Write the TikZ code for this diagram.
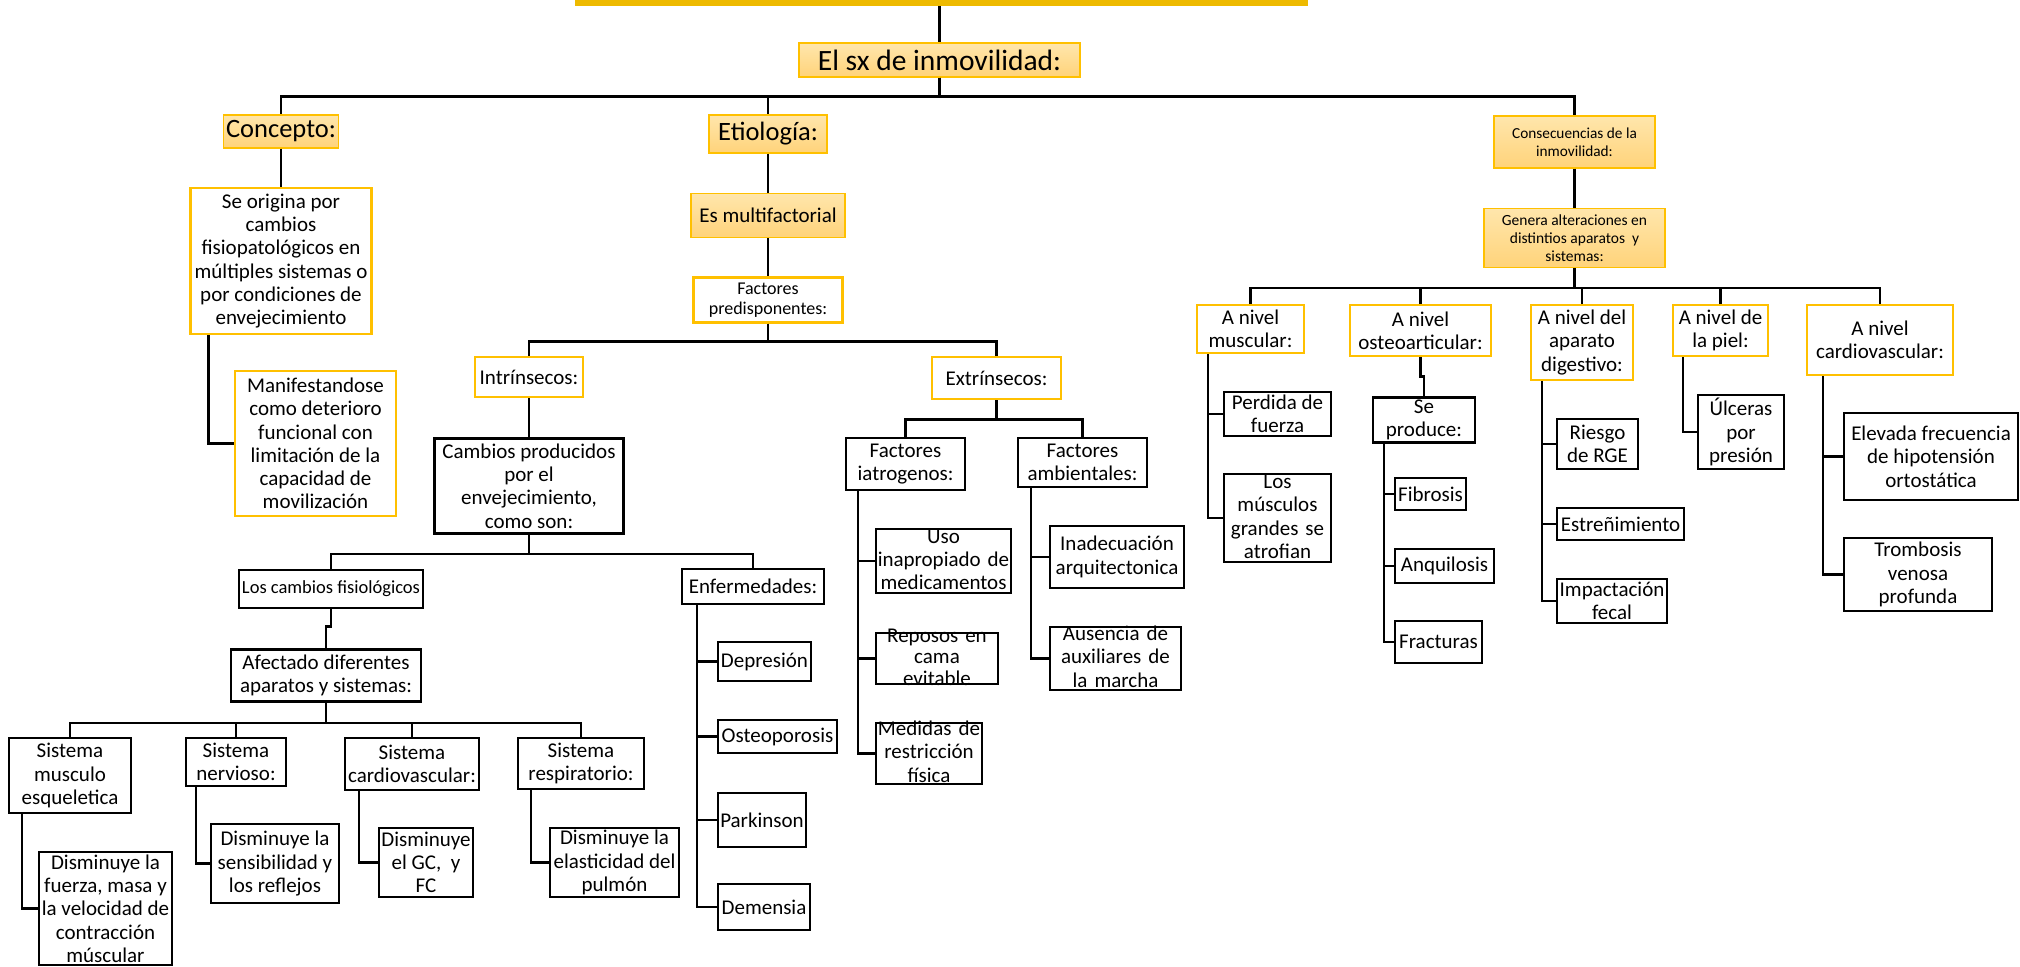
\documentclass[tikz,border=0pt]{standalone}
\usepackage{fontspec}
\setmainfont{Carlito}
\usetikzlibrary{positioning}
\definecolor{gold}{RGB}{255,192,0}
\definecolor{barGold}{RGB}{238,186,0}
\definecolor{orangeTop}{RGB}{255,230,172}
\definecolor{orangeBot}{RGB}{255,211,122}

\newcommand{\treeedge}[3]{\draw[link] (#1.south) -- ++(0,#3) -| (#2.north);}
\newcommand{\sideedge}[3]{\draw[link] ([xshift=#3]#1.south) |- (#2.west);}

\begin{document}
\begin{tikzpicture}[x=1pt, y=-1pt,
	link/.style={line width=2.6pt},
	txt/.style={inner sep=0pt, align=center, font=\fontsize{21}{23.3}\selectfont},
	hbox/.style={txt, rectangle, draw=gold, line width=1.4pt, top color=orangeTop, bottom color=orangeBot},
	gbox/.style={txt, rectangle, draw=gold, line width=2.6pt, fill=white},
	bbox/.style={txt, rectangle, draw=black, line width=2.6pt, fill=white},
	titlebar/.style={rectangle, fill=barGold, inner sep=0pt, minimum width=733, minimum height=46},
	boxsize/.style 2 args={minimum width=#1, minimum height=#2},
	squeeze/.style 2 args={text width=#1, text height=0pt, text depth=#2},
	bigfont/.style={font=\fontsize{26.5}{30}\selectfont}]
	
	\useasboundingbox (0,0) rectangle (2020,966);
	
	\node[titlebar] (title) at (941.5,-17) {};
	\node[hbox, boxsize={281}{34}, font=\fontsize{29.5}{34}\selectfont] (sx) at (939.5,60) {El sx de inmovilidad:};
	
	\node[hbox, boxsize={115}{33}, bigfont] (concepto) at (281,131.5) {Concepto:};
	\node[gbox, boxsize={181}{146}, below=38pt of concepto] (origen) {Se origina por\\cambios\\fisiopatológicos en\\múltiples sistemas o\\por condiciones de\\envejecimiento};
	\node[gbox, boxsize={161}{145}] (manif) at (315.5,443.5) {Manifestandose\\como deterioro\\funcional con\\limitación de la\\capacidad de\\movilización};
	
	\node[hbox, boxsize={118}{38}, bigfont] (etio) at (768,134) {Etiología:};
	\node[hbox, boxsize={154}{44}, below=39pt of etio] (multi) {Es multifactorial};
	\node[gbox, boxsize={149}{45}, below=38pt of multi, font=\fontsize{18}{20}\selectfont] (predis) {Factores\\predisponentes:};
	\node[gbox, boxsize={108}{40}] (intrin) at (529,377) {Intrínsecos:};
	\node[gbox, boxsize={129}{42}] (extrin) at (996.5,378) {Extrínsecos:};
	\node[bbox, boxsize={189}{95}, below=39pt of intrin] (cambios) {Cambios producidos\\por el\\envejecimiento,\\como son:};
	\node[bbox, boxsize={184}{38}, font=\fontsize{18.5}{21}\selectfont] (fisio) at (331,589) {Los cambios fisiológicos};
	\node[bbox, boxsize={142}{35}] (enferm) at (753,586.5) {Enfermedades:};
	\node[bbox, boxsize={190}{52}, below=39pt of fisio, xshift=-5pt] (afect) {Afectado diferentes\\aparatos y sistemas:};
	
	\node[bbox, boxsize={122}{75}] (smus) at (70,775.5) {Sistema\\musculo\\esqueletica};
	\node[bbox, boxsize={100}{48}] (snerv) at (236,762) {Sistema\\nervioso:};
	\node[bbox, boxsize={134}{52}] (scard) at (412,764) {Sistema\\cardiovascular:};
	\node[bbox, boxsize={126}{51}] (sresp) at (581,763.5) {Sistema\\respiratorio:};
	\node[bbox, boxsize={133}{113}] (dfuerza) at (105.5,908.5) {Disminuye la\\fuerza, masa y\\la velocidad de\\contracción\\múscular};
	\node[bbox, boxsize={128}{79}] (dsens) at (275,863.5) {Disminuye la\\sensibilidad y\\los reflejos};
	\node[bbox, boxsize={94}{69}] (dgc) at (426,862.5) {Disminuye\\el GC,\ \ y\\FC};
	\node[bbox, boxsize={129}{69}] (dpul) at (614.5,862.5) {Disminuye la\\elasticidad del\\pulmón};
	
	\node[bbox, boxsize={93}{39}] (depre) at (764.5,661.5) {Depresión};
	\node[bbox, boxsize={119}{33}] (osteo) at (777.5,736.5) {Osteoporosis};
	\node[bbox, boxsize={88}{54}] (parkin) at (762,820) {Parkinson};
	\node[bbox, boxsize={92}{46}] (demen) at (764,907) {Demensia};
	
	\node[bbox, boxsize={119}{52}] (iatro) at (905.5,464) {Factores\\iatrogenos:};
	\node[bbox, boxsize={129}{49}] (ambien) at (1082.5,462.5) {Factores\\ambientales:};
	\node[bbox, boxsize={135}{64}, squeeze={135}{36}] (uso) at (943.5,561) {Uso\\inapropiado de\\medicamentos};
	\node[bbox, boxsize={122}{51}, squeeze={122}{33}, font=\fontsize{21}{21.7}\selectfont] (reposo) at (937,658.5) {Reposos en\\cama\\evitable};
	\node[bbox, boxsize={106}{61}, squeeze={106}{36}] (medidas) at (929,753.5) {Medidas de\\restricción\\física};
	\node[bbox, boxsize={134}{62}] (inadec) at (1117,557) {Inadecuación\\arquitectonica};
	\node[bbox, boxsize={131}{63}, squeeze={131}{36}] (ausen) at (1115.5,658.5) {Ausencia de\\auxiliares de\\la marcha};
	
	\node[hbox, boxsize={161}{52}, font=\fontsize{15.3}{18.3}\selectfont] (conse) at (1574.5,142) {Consecuencias de la\\inmovilidad:};
	\node[hbox, boxsize={181}{59}, below=39pt of conse, font=\fontsize{15.5}{18}\selectfont] (genera) {Genera alteraciones en\\distintios aparatos\ \ y\\sistemas:};
	\node[gbox, boxsize={107}{48}] (nmus) at (1250.5,329) {A nivel\\muscular:};
	\node[gbox, boxsize={141}{51}] (nost) at (1420.5,330.5) {A nivel\\osteoarticular:};
	\node[gbox, boxsize={102}{75}] (ndig) at (1582,342.5) {A nivel del\\aparato\\digestivo:};
	\node[gbox, boxsize={95}{51}] (npiel) at (1720.5,330.5) {A nivel de\\la piel:};
	\node[gbox, boxsize={146}{70}] (ncard) at (1880,340) {A nivel\\cardiovascular:};
	
	\node[bbox, boxsize={107}{44}] (perd) at (1277.5,414) {Perdida de\\fuerza};
	\node[bbox, boxsize={107}{88}, squeeze={107}{59}] (atrof) at (1277.5,518) {Los\\músculos\\grandes se\\atrofian};
	\node[bbox, boxsize={102}{45}, below=39pt of nost, xshift=3.5pt] (seprod) {Se\\produce:};
	\node[bbox, boxsize={71}{32}] (fibro) at (1430.5,494) {Fibrosis};
	\node[bbox, boxsize={99}{34}] (anqui) at (1444.5,566) {Anquilosis};
	\node[bbox, boxsize={87}{42}] (fract) at (1438.5,642) {Fracturas};
	\node[bbox, boxsize={81}{50}] (rge) at (1597.5,444) {Riesgo\\de RGE};
	\node[bbox, boxsize={127}{32}] (estre) at (1620.5,524) {Estreñimiento};
	\node[bbox, boxsize={110}{44}] (impac) at (1612,601) {Impactación\\fecal};
	\node[bbox, boxsize={86}{74}] (ulcer) at (1741,432) {Úlceras\\por\\presión};
	\node[bbox, boxsize={174}{87}] (eleva) at (1931,456.5) {Elevada frecuencia\\de hipotensión\\ortostática};
	\node[bbox, boxsize={148}{73}] (tromb) at (1918,574.5) {Trombosis\\venosa\\profunda};
	
	\draw[link] (title.south -| sx.north) -- (sx.north);
	\treeedge{sx}{concepto}{19}
	\treeedge{sx}{etio}{19}
	\treeedge{sx}{conse}{19}
	\treeedge{concepto}{origen}{19}
	\sideedge{origen}{manif}{-72.5pt}
	
	\treeedge{etio}{multi}{19}
	\treeedge{multi}{predis}{19}
	\treeedge{predis}{intrin}{18}
	\treeedge{predis}{extrin}{18}
	\treeedge{intrin}{cambios}{19}
	\treeedge{cambios}{fisio}{19}
	\treeedge{cambios}{enferm}{19}
	\treeedge{fisio}{afect}{17}
	\treeedge{afect}{smus}{20}
	\treeedge{afect}{snerv}{20}
	\treeedge{afect}{scard}{20}
	\treeedge{afect}{sresp}{20}
	\sideedge{smus}{dfuerza}{-48pt}
	\sideedge{snerv}{dsens}{-40pt}
	\sideedge{scard}{dgc}{-53pt}
	\sideedge{sresp}{dpul}{-50pt}
	\sideedge{enferm}{depre}{-56pt}
	\sideedge{enferm}{osteo}{-56pt}
	\sideedge{enferm}{parkin}{-56pt}
	\sideedge{enferm}{demen}{-56pt}
	
	\treeedge{extrin}{iatro}{19}
	\treeedge{extrin}{ambien}{19}
	\sideedge{iatro}{uso}{-47.5pt}
	\sideedge{iatro}{reposo}{-47.5pt}
	\sideedge{iatro}{medidas}{-47.5pt}
	\sideedge{ambien}{inadec}{-51.5pt}
	\sideedge{ambien}{ausen}{-51.5pt}
	
	\treeedge{conse}{genera}{19}
	\treeedge{genera}{nmus}{20}
	\treeedge{genera}{nost}{20}
	\treeedge{genera}{ndig}{20}
	\treeedge{genera}{npiel}{20}
	\treeedge{genera}{ncard}{20}
	\sideedge{nmus}{perd}{-42.5pt}
	\sideedge{nmus}{atrof}{-42.5pt}
	\treeedge{nost}{seprod}{19}
	\sideedge{seprod}{fibro}{-40pt}
	\sideedge{seprod}{anqui}{-40pt}
	\sideedge{seprod}{fract}{-40pt}
	\sideedge{ndig}{rge}{-40pt}
	\sideedge{ndig}{estre}{-40pt}
	\sideedge{ndig}{impac}{-40pt}
	\sideedge{npiel}{ulcer}{-37.5pt}
	\sideedge{ncard}{eleva}{-57pt}
	\sideedge{ncard}{tromb}{-57pt}
	
\end{tikzpicture}
\end{document}
